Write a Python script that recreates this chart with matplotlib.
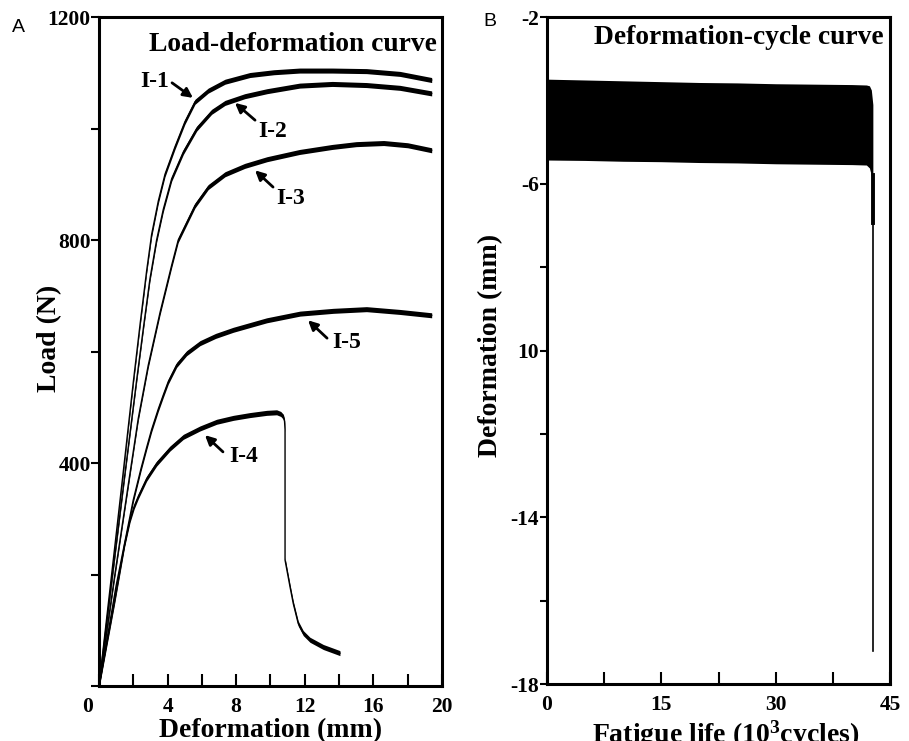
import numpy as np
import matplotlib
matplotlib.use("Agg")
import matplotlib.pyplot as plt

plt.rcParams["font.family"] = ["Liberation Serif", "DejaVu Serif"]
plt.rcParams["font.weight"] = "bold"
plt.rcParams["mathtext.fontset"] = "custom"
plt.rcParams["mathtext.rm"] = "Liberation Serif:bold"
plt.rcParams["mathtext.bf"] = "Liberation Serif:bold"
plt.rcParams["mathtext.default"] = "bf"

# --- panel A: load-deformation curves (deformation mm, load N) ---
i1_x = [0, 0.7, 1.4, 2.0, 2.4, 2.78, 3.07, 3.46, 3.85, 4.43, 5.01, 5.6, 6.37, 7.35, 8.8, 10.2,
        11.7, 13.6, 15.6, 17.55, 19.4]
i1_y = [0, 190, 380, 545, 650, 745, 810, 870, 918, 967, 1012, 1048, 1068, 1084, 1096, 1101,
        1104, 1104, 1103, 1098, 1087]

i2_x = [0, 0.75, 1.5, 2.2, 2.6, 2.97, 3.36, 3.75, 4.24, 4.92, 5.7, 6.57, 7.35, 8.5, 9.8,
        11.7, 13.6, 15.6, 17.55, 19.4]
i2_y = [0, 190, 378, 550, 645, 730, 800, 855, 910, 958, 1000, 1030, 1046, 1058, 1067,
        1077, 1080, 1078, 1073, 1063]

i3_x = [0, 0.9, 1.81, 2.29, 2.87, 3.56, 4.24, 4.62, 5.6, 6.37, 7.35, 8.5, 9.8, 11.7, 13.6,
        15.0, 16.6, 18.0, 19.4]
i3_y = [0, 195, 382, 480, 575, 670, 755, 800, 862, 895, 918, 933, 945, 958, 967,
        972, 974, 970, 961]

i5_x = [0, 1.0, 2.0, 2.45, 2.78, 3.07, 3.46, 3.75, 4.04, 4.53, 5.11, 5.89, 6.8, 7.83, 9.78,
        11.72, 13.66, 15.6, 17.55, 19.4]
i5_y = [0, 180, 334, 390, 428, 460, 497, 522, 546, 576, 597, 615, 628, 639, 656,
        668, 673, 676, 671, 665]

i4_x = [0, 0.9, 1.5, 1.81, 2.05, 2.29, 2.78, 3.36, 4.14, 4.92, 5.89, 6.86, 7.83, 8.8, 9.78,
        10.36, 10.6, 10.75, 10.82, 10.85, 10.85, 11.14, 11.33, 11.62, 11.91, 12.3, 13.08, 14.05]
i4_y = [0, 150, 255, 298, 322, 340, 372, 399, 426, 447, 462, 474, 481, 486, 490,
        491, 488, 483, 475, 460, 226, 178, 148, 112, 95, 83, 70, 59]

curve_names = ["I-1", "I-2", "I-3", "I-5", "I-4"]
curves_x = [i1_x, i2_x, i3_x, i5_x, i4_x]
curves_y = [i1_y, i2_y, i3_y, i5_y, i4_y]

# label text centre, arrow tail, arrow head (data coords)
label_pos = {"I-1": (3.27, 1085), "I-2": (10.15, 995), "I-3": (11.2, 875),
             "I-5": (14.46, 617), "I-4": (8.45, 411)}
arrow_tail = {"I-1": (4.26, 1082), "I-2": (9.10, 1015), "I-3": (10.15, 895),
              "I-5": (13.3, 624), "I-4": (7.23, 420)}
arrow_head = {"I-1": (5.48, 1055), "I-2": (7.93, 1046), "I-3": (9.10, 925),
              "I-5": (12.19, 656), "I-4": (6.18, 450)}

# --- panel B: deformation-cycle band (10^3 cycles, mm) ---
cycles = [0, 5, 10, 15, 20, 25, 30, 35, 40, 41.9, 42.3, 42.55, 42.75]
band_top = [-3.49, -3.51, -3.53, -3.55, -3.57, -3.58, -3.60, -3.61, -3.62, -3.63, -3.65, -3.75, -4.1]
band_bottom = [-5.43, -5.44, -5.46, -5.47, -5.49, -5.50, -5.52, -5.53, -5.54, -5.55, -5.62, -5.8, -6.2]
drop_cycle = 42.72
drop_thick = [-5.8, -6.95]
drop_thin = [-6.95, -17.2]

fig = plt.figure(figsize=(9.09, 7.41), dpi=100)
axA = fig.add_axes([0.1089, 0.0742, 0.3773, 0.9028])
axB = fig.add_axes([0.6018, 0.0769, 0.3773, 0.9001])

TICK_FS = 15.5
LABEL_FS = 20
TITLE_FS = 19.8

# panel A
for name, xs, ys in zip(curve_names, curves_x, curves_y):
    xs = np.array(xs)
    ys = np.array(ys)
    axA.plot(xs, ys, color="k", lw=1.0)
    axA.fill_between(xs, ys - 4.5, ys + 4.5, color="k", lw=0)
    axA.annotate("", xy=arrow_head[name], xytext=arrow_tail[name],
                 arrowprops=dict(arrowstyle="-|>", color="k", lw=2,
                                 mutation_scale=14, shrinkA=0, shrinkB=0))
    axA.text(*label_pos[name], name, fontsize=17, fontweight="bold",
             ha="center", va="center")

axA.set_xlim(0, 20)
axA.set_ylim(0, 1200)
axA.set_xticks(np.arange(0, 21, 2))
axA.set_xticklabels(["", "", "4", "", "8", "", "12", "", "16", "", "20"])
axA.set_yticks(np.arange(0, 1201, 200))
axA.set_yticklabels(["", "", "400", "", "800", "", "1200"])
axA.tick_params(axis="x", direction="in", length=9, width=1.5, pad=8, labelsize=TICK_FS)
axA.tick_params(axis="y", direction="out", length=6, width=1.5, pad=0, labelsize=TICK_FS)
axA.annotate("0", xy=(0, 0), xytext=(-8, -8), textcoords="offset points",
             fontsize=TICK_FS, fontweight="bold", ha="center", va="top")
axA.set_xlabel("Deformation (mm)", fontsize=LABEL_FS, fontweight="bold")
axA.xaxis.set_label_coords(0.5, -0.048)
axA.set_ylabel("Load (N)", fontsize=LABEL_FS, fontweight="bold")
axA.yaxis.set_label_coords(-0.108, 0.52)
axA.text(0.985, 0.978, "Load-deformation curve", transform=axA.transAxes,
         fontsize=TITLE_FS, fontweight="bold", ha="right", va="top")

# panel B
axB.fill_between(cycles, band_bottom, band_top, color="k", lw=0)
axB.plot([drop_cycle, drop_cycle], drop_thick, color="k", lw=2.8)
axB.plot([drop_cycle, drop_cycle], drop_thin, color="k", lw=1.2)
axB.set_xlim(0, 45)
axB.set_ylim(-18, -2)
axB.set_xticks(np.arange(0, 45.1, 7.5))
axB.set_xticklabels(["0", "", "15", "", "30", "", "45"])
axB.set_yticks([-18, -16, -14, -12, -10, -8, -6, -2])
axB.set_yticklabels(["-18", "", "-14", "", "10", "", "-6", "-2"])
axB.tick_params(axis="x", direction="in", length=9, width=1.5, pad=8, labelsize=TICK_FS)
axB.tick_params(axis="y", direction="out", length=5, width=1.5, pad=1, labelsize=TICK_FS)
axB.set_xlabel("Fatigue life (10$^{3}$cycles)", fontsize=LABEL_FS, fontweight="bold")
axB.xaxis.set_label_coords(0.522, -0.051)
axB.set_ylabel("Deformation (mm)", fontsize=LABEL_FS, fontweight="bold")
axB.yaxis.set_label_coords(-0.128, 0.508)
axB.text(0.98, 0.988, "Deformation-cycle curve", transform=axB.transAxes,
         fontsize=TITLE_FS, fontweight="bold", ha="right", va="top")

for ax in (axA, axB):
    for sp in ax.spines.values():
        sp.set_linewidth(2.2)

fig.text(18 / 909, 1 - 28 / 741, "A", fontsize=14, family="Liberation Sans",
         fontweight="normal", ha="center", va="center")
fig.text(490 / 909, 1 - 22 / 741, "B", fontsize=14, family="Liberation Sans",
         fontweight="normal", ha="center", va="center")

fig.savefig("out.png", dpi=100)
